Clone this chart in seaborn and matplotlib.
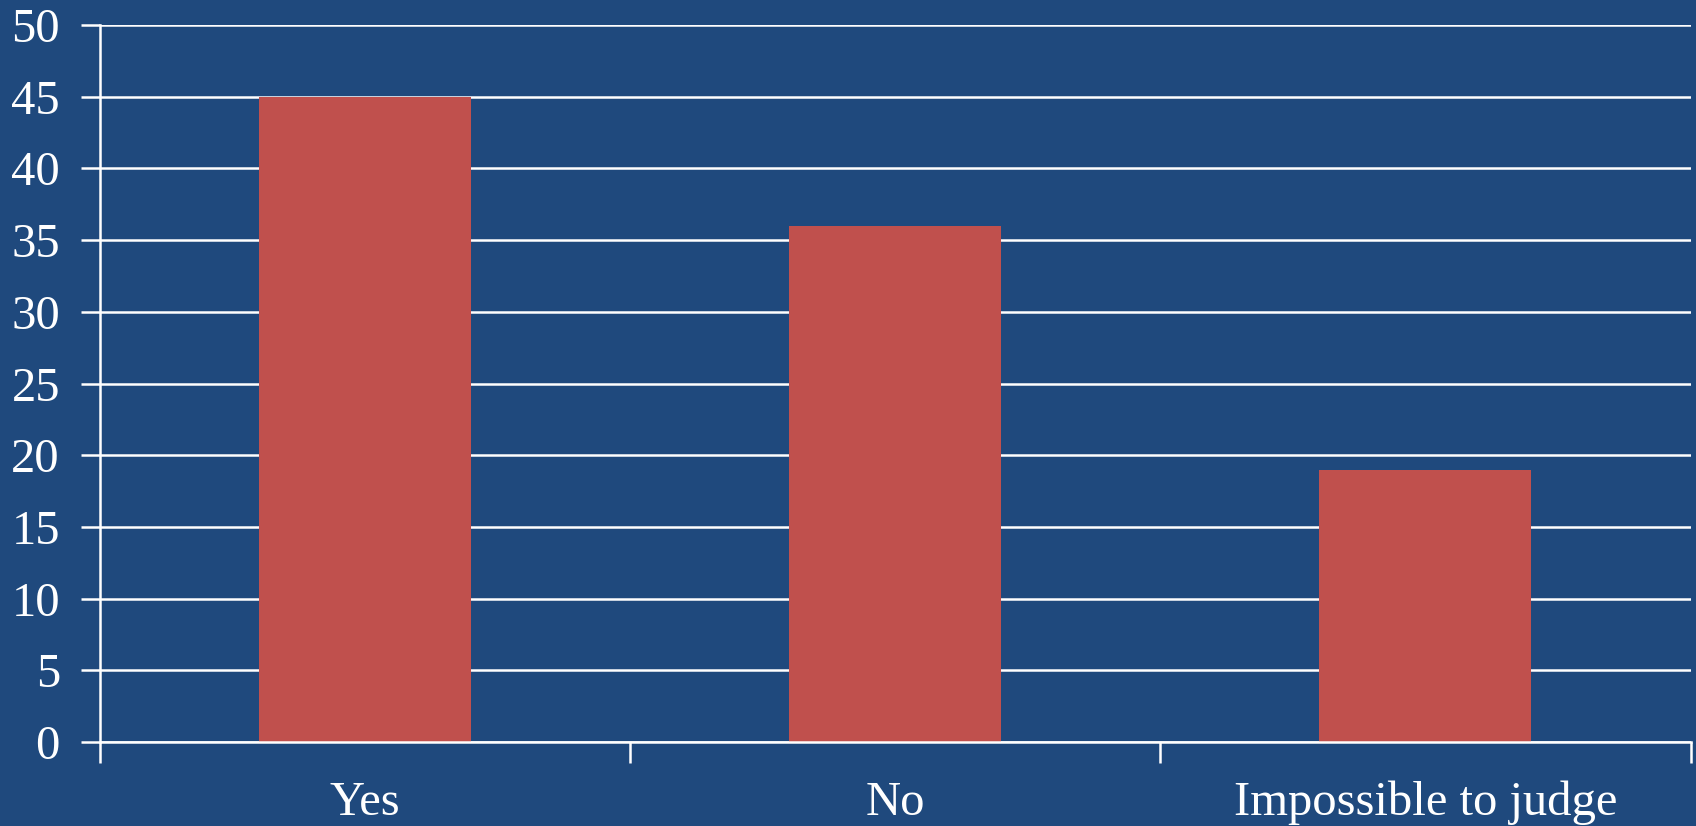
import matplotlib
matplotlib.use("Agg")
import matplotlib.pyplot as plt
import seaborn as sns
import pandas as pd
from matplotlib.ticker import FixedLocator

categories = ["Yes", "No", "Impossible to judge"]
values = [45, 36, 19]
yticks = [0, 5, 10, 15, 20, 25, 30, 35, 40, 45, 50]

BG = "#1F497D"
BAR = "#C0504D"

sns.set_style("white")
plt.rcParams['font.family'] = ['Liberation Serif', 'DejaVu Serif']

df = pd.DataFrame({"cat": categories, "val": values})

fig = plt.figure(figsize=(16.96, 8.26), dpi=100, facecolor=BG)
ax = fig.add_axes([0.0587, 0.1017, 0.9381, 0.868])
ax.set_facecolor(BG)

sns.barplot(data=df, x="cat", y="val", color=BAR, width=0.4, ax=ax, saturation=1,
            linewidth=0, edgecolor=BAR, zorder=3)

ax.set_ylim(0, 50)
ax.set_xlim(-0.5, 2.5)
ax.set_yticks(yticks)
ax.set_xlabel("")
ax.set_ylabel("")

ax.yaxis.grid(True, color="white", linewidth=1.8, zorder=1)
ax.set_axisbelow(True)
for s in ["top", "right"]:
    ax.spines[s].set_visible(False)
for s in ["left", "bottom"]:
    ax.spines[s].set_visible(True)
    ax.spines[s].set_color("white")
    ax.spines[s].set_linewidth(1.8)
    ax.spines[s].set_zorder(4)

ax.xaxis.set_minor_locator(FixedLocator([-0.5, 0.5, 1.5, 2.5]))
ax.tick_params(axis="x", which="major", length=0, pad=28, labelsize=35, labelcolor="white")
ax.tick_params(axis="x", which="minor", length=15, width=1.8, color="white", direction="out",
               bottom=True)
ax.tick_params(axis="y", which="major", length=14, width=1.8, color="white", direction="out",
               pad=14.5, labelsize=35, labelcolor="white", left=True)

fig.savefig("out.png", dpi=100, facecolor=BG)
